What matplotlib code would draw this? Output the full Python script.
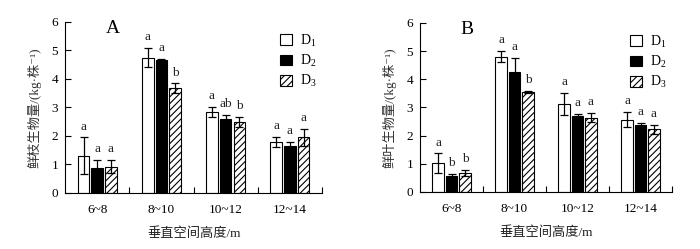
import matplotlib
matplotlib.use('Agg')
import matplotlib.pyplot as plt
import numpy as np

plt.rcParams['font.family'] = ['Liberation Serif', 'Noto Sans CJK SC', 'DejaVu Sans']
plt.rcParams['mathtext.fontset'] = 'custom'
plt.rcParams['mathtext.rm'] = 'Liberation Serif'
plt.rcParams['mathtext.it'] = 'Liberation Serif:italic'
plt.rcParams['hatch.linewidth'] = 0.8

# 数据
groups = ['6~8', '8~10', '10~12', '12~14']
series = ['D$_1$', 'D$_2$', 'D$_3$']

# A: 鲜枝生物量
branch_mean = [[1.30, 4.75, 2.85, 1.80],
               [0.88, 4.65, 2.60, 1.66],
               [0.92, 3.67, 2.48, 1.95]]
branch_err = [[0.65, 0.33, 0.18, 0.18],
              [0.27, 0.06, 0.15, 0.14],
              [0.23, 0.17, 0.18, 0.30]]
branch_sig = [['a', 'a', 'a', 'a'],
              ['a', 'a', 'ab', 'a'],
              ['a', 'b', 'b', 'a']]

# B: 鲜叶生物量
leaf_mean = [[1.02, 4.80, 3.13, 2.57],
             [0.55, 4.27, 2.70, 2.36],
             [0.66, 3.55, 2.64, 2.22]]
leaf_err = [[0.35, 0.20, 0.40, 0.28],
            [0.09, 0.50, 0.07, 0.09],
            [0.11, 0.05, 0.16, 0.16]]
leaf_sig = [['a', 'a', 'a', 'a'],
            ['b', 'a', 'a', 'a'],
            ['b', 'b', 'a', 'a']]

fig = plt.figure(figsize=(7, 2.49), dpi=100)
axA = fig.add_axes([0.093, 0.225, 0.367, 0.687])
axB = fig.add_axes([0.600, 0.229, 0.360, 0.679])

face = ['white', 'black', 'white']
hatch = [None, None, '/////']
width = 0.18
step = 0.213
x = np.arange(len(groups))


def draw(ax, mean, err, sig, panel, ylabel):
    for i in range(3):
        pos = x + (i - 1) * step
        ax.bar(pos, mean[i], width, color=face[i], edgecolor='black',
               linewidth=0.8, hatch=hatch[i], label=series[i], zorder=2)
        ax.errorbar(pos, mean[i], yerr=err[i], fmt='none', ecolor='black',
                    elinewidth=0.9, capsize=2.8, capthick=0.9, zorder=3)
        for p, m, e, s in zip(pos, mean[i], err[i], sig[i]):
            ax.text(p, m + e + 0.17, s, ha='center', va='bottom',
                    fontsize=9.5, color='#222222')
    ax.set_xlim(-0.5, 3.5)
    ax.set_ylim(0, 6)
    ax.set_yticks(range(7))
    ax.set_xticks(x + 0.5)
    ax.set_xticklabels([])
    ax.set_xticks(x, minor=True)
    ax.set_xticklabels(groups, minor=True)
    ax.tick_params(axis='x', which='major', direction='in', length=4, width=0.8)
    ax.tick_params(axis='x', which='minor', length=0, pad=8, labelsize=9.5)
    ax.tick_params(axis='y', direction='in', length=4, width=0.8, pad=5,
                   labelsize=9.5)
    for s in ['top', 'right']:
        ax.spines[s].set_visible(False)
    for s in ['left', 'bottom']:
        ax.spines[s].set_linewidth(0.8)
    ax.set_xlabel('垂直空间高度/m', fontsize=9.5, labelpad=8, color='#222222')
    ax.set_ylabel(ylabel, fontsize=9.5, labelpad=7, color='#333333')
    ax.text(0.185, 0.96, panel, transform=ax.transAxes, fontsize=14,
            ha='center', va='center')
    ax.legend(loc='upper right', bbox_to_anchor=(1.0, 0.97), frameon=False,
              fontsize=10, handlelength=0.8, handleheight=0.8,
              handletextpad=0.6, labelspacing=0.3, borderaxespad=0)


draw(axA, branch_mean, branch_err, branch_sig, 'A', '鲜枝生物量/(kg·株⁻¹)')
draw(axB, leaf_mean, leaf_err, leaf_sig, 'B', '鲜叶生物量/(kg·株⁻¹)')

fig.savefig('out.png', dpi=100)
